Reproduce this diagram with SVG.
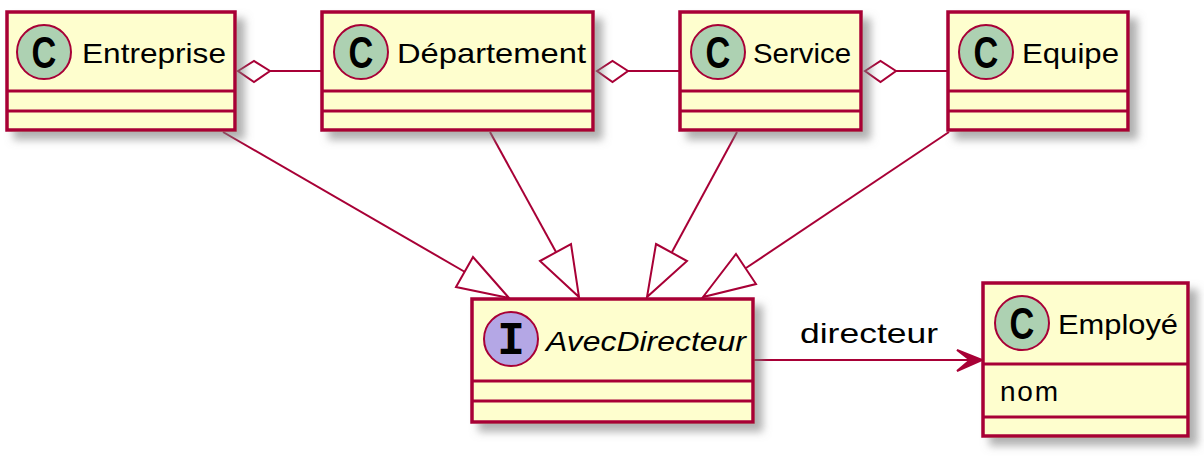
<svg xmlns="http://www.w3.org/2000/svg" width="1204" height="461" viewBox="0 0 1204 461">
<style>
.box{fill:#FEFECE;stroke:#A80036;stroke-width:3.5}
.sep{stroke:#A80036;stroke-width:3}
.cc{fill:#ADD1B2;stroke:#A80036;stroke-width:2}
.ic{fill:#B4A7E5;stroke:#A80036;stroke-width:2}
.ci{font-family:"Liberation Sans",Arial,sans-serif;font-weight:bold;font-size:44px;fill:#000;text-anchor:middle}
.ii{font-family:"Liberation Mono","Courier New",monospace;font-weight:bold;font-size:46px;fill:#000;text-anchor:middle}
.name{font-family:"Liberation Sans",Arial,sans-serif;font-size:28px;fill:#000}
.ln{fill:none;stroke:#A80036;stroke-width:2}
.hollow{fill:#FFFFFF;stroke:#A80036;stroke-width:2}
.head{fill:#A80036;stroke:#A80036;stroke-width:2}
</style>
<defs>
<filter id="sh" x="-10%" y="-10%" width="130%" height="140%">
<feGaussianBlur in="SourceAlpha" stdDeviation="4.5" result="b"/>
<feOffset in="b" dx="8" dy="8" result="o"/>
<feColorMatrix in="o" type="matrix" values="0 0 0 0 0.2  0 0 0 0 0.2  0 0 0 0 0.2  0 0 0 0.6 0" result="c"/>
<feMerge><feMergeNode in="c"/><feMergeNode in="SourceGraphic"/></feMerge>
</filter>
</defs>

<g id="connectors">
<line class="ln" x1="270" y1="71" x2="322" y2="71"/>
<polygon class="hollow" points="238,71 254,61 270,71 254,82"/>
<line class="ln" x1="628" y1="71" x2="680" y2="71"/>
<polygon class="hollow" points="597,71 612.5,61 628,71 612.5,82"/>
<line class="ln" x1="896" y1="71" x2="948" y2="71"/>
<polygon class="hollow" points="865,71 880.5,61 896,71 880.5,82"/>
<line class="ln" x1="223" y1="132" x2="465" y2="272"/>
<polygon class="hollow" points="456,287 473,257 509,298"/>
<line class="ln" x1="490" y1="132" x2="556" y2="252"/>
<polygon class="hollow" points="540,261 571,244 579,297"/>
<line class="ln" x1="737" y1="132" x2="672" y2="252"/>
<polygon class="hollow" points="656,244 687,261 647,297"/>
<line class="ln" x1="949" y1="132" x2="746" y2="268"/>
<polygon class="hollow" points="736,254 756,284 703,297"/>
<line class="ln" x1="754" y1="360" x2="975" y2="360"/>
<polygon class="head" points="982,360 957,350 970,360 957,371"/>
<text class="name" x="800" y="343" textLength="138" lengthAdjust="spacingAndGlyphs">directeur</text>
</g>

<g id="Entreprise">
<rect class="box" x="7" y="12" width="228" height="118" filter="url(#sh)"/>
<circle class="cc" cx="44" cy="52" r="27"/>
<text class="ci" transform="translate(44,67.5) scale(0.78,1)">C</text>
<text class="name" x="82" y="63" textLength="144" lengthAdjust="spacingAndGlyphs">Entreprise</text>
<line class="sep" x1="7" y1="91" x2="235" y2="91"/>
<line class="sep" x1="7" y1="111" x2="235" y2="111"/>
</g>

<g id="Departement">
<rect class="box" x="322" y="12" width="271" height="118" filter="url(#sh)"/>
<circle class="cc" cx="361" cy="52" r="27"/>
<text class="ci" transform="translate(361,67.5) scale(0.78,1)">C</text>
<text class="name" x="397" y="63" textLength="189" lengthAdjust="spacingAndGlyphs">Département</text>
<line class="sep" x1="322" y1="91" x2="593" y2="91"/>
<line class="sep" x1="322" y1="111" x2="593" y2="111"/>
</g>

<g id="Service">
<rect class="box" x="680" y="12" width="181" height="118" filter="url(#sh)"/>
<circle class="cc" cx="718" cy="52" r="27"/>
<text class="ci" transform="translate(718,67.5) scale(0.78,1)">C</text>
<text class="name" x="753" y="63" textLength="98" lengthAdjust="spacingAndGlyphs">Service</text>
<line class="sep" x1="680" y1="91" x2="861" y2="91"/>
<line class="sep" x1="680" y1="111" x2="861" y2="111"/>
</g>

<g id="Equipe">
<rect class="box" x="948" y="12" width="180" height="118" filter="url(#sh)"/>
<circle class="cc" cx="986" cy="52" r="27"/>
<text class="ci" transform="translate(986,67.5) scale(0.78,1)">C</text>
<text class="name" x="1022" y="63" textLength="97" lengthAdjust="spacingAndGlyphs">Equipe</text>
<line class="sep" x1="948" y1="91" x2="1128" y2="91"/>
<line class="sep" x1="948" y1="111" x2="1128" y2="111"/>
</g>

<g id="AvecDirecteur">
<rect class="box" x="472" y="299" width="281" height="123" filter="url(#sh)"/>
<circle class="ic" cx="511" cy="339" r="27"/>
<text class="ii" x="511" y="354">I</text>
<text class="name" x="546" y="351" font-style="italic" textLength="200" lengthAdjust="spacingAndGlyphs">AvecDirecteur</text>
<line class="sep" x1="472" y1="381" x2="753" y2="381"/>
<line class="sep" x1="472" y1="401" x2="753" y2="401"/>
</g>

<g id="Employe">
<rect class="box" x="983" y="283" width="205" height="153" filter="url(#sh)"/>
<circle class="cc" cx="1022" cy="323" r="27"/>
<text class="ci" transform="translate(1022,338.5) scale(0.78,1)">C</text>
<text class="name" x="1058" y="334" textLength="120" lengthAdjust="spacingAndGlyphs">Employé</text>
<line class="sep" x1="983" y1="364" x2="1188" y2="364"/>
<text class="name" x="1000" y="401" textLength="58" lengthAdjust="spacing">nom</text>
<line class="sep" x1="983" y1="417" x2="1188" y2="417"/>
</g>
</svg>
